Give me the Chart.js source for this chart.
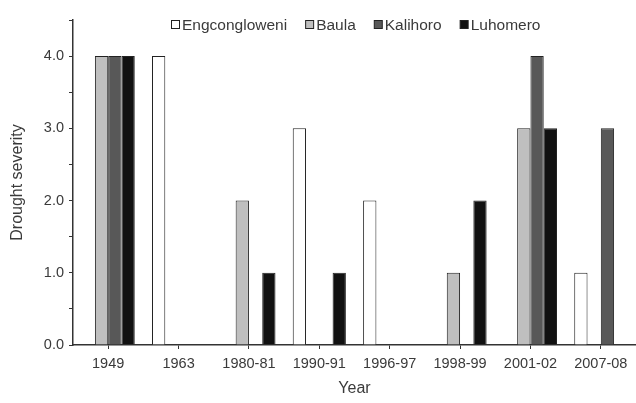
<!DOCTYPE html>
<html>
<head>
<meta charset="utf-8">
<script src="https://cdn.jsdelivr.net/npm/chart.js@4"></script>
<style>
    html, body { margin: 0; padding: 0; background: #fff; }
    #wrap { width: 636px; height: 403px; }
</style>
</head>
<body>
<div id="wrap"><canvas id="drought-chart" width="636" height="403"></canvas></div>
<script>
const years = ['1949', '1963', '1980-81', '1990-91', '1996-97', '1998-99', '2001-02', '2007-08'];
const engcongloweni = [null, 4, null, 3, 2, null, null, 1];
const baula = [4, null, 2, null, null, 1, 3, null];
const kalihoro = [4, null, null, null, null, null, 4, 3];
const luhomero = [4, null, 1, 1, null, 2, 3, null];

const FONT = '"Liberation Sans", Arial, Helvetica, sans-serif';

// legend drawn inside the top of the plot, like the original figure
const topLegend = {
    id: 'topLegend',
    afterDraw(chart) {
        const ctx = chart.ctx;
        ctx.save();
        ctx.font = '15.5px ' + FONT;
        ctx.textBaseline = 'middle';
        let x = 171;
        const y = 25;
        chart.data.datasets.forEach(ds => {
            ctx.fillStyle = ds.backgroundColor;
            ctx.strokeStyle = '#222';
            ctx.lineWidth = 1;
            ctx.fillRect(x + 0.5, y - 4.5, 8, 8);
            ctx.strokeRect(x + 0.5, y - 4.5, 8, 8);
            ctx.fillStyle = '#3a3a3a';
            ctx.fillText(ds.label, x + 11, y + 1);
            x += 11 + ctx.measureText(ds.label).width + 18;
        });
        ctx.restore();
    }
};

new Chart(document.getElementById('drought-chart'), {
    type: 'bar',
    data: {
        labels: years,
        datasets: [
            { label: 'Engcongloweni', data: engcongloweni, backgroundColor: '#ffffff' },
            { label: 'Baula', data: baula, backgroundColor: '#bfbfbf' },
            { label: 'Kalihoro', data: kalihoro, backgroundColor: '#585858' },
            { label: 'Luhomero', data: luhomero, backgroundColor: '#111111' }
        ].map(ds => Object.assign(ds, {
            borderColor: '#222',
            borderWidth: 1,
            borderSkipped: 'bottom',
            categoryPercentage: 0.755,
            barPercentage: 1
        }))
    },
    plugins: [topLegend],
    options: {
        responsive: false,
        animation: false,
        layout: {
            padding: { top: 20, right: 0, left: 4, bottom: 2 }
        },
        plugins: {
            legend: { display: false },
            tooltip: { enabled: false }
        },
        scales: {
            x: {
                grid: {
                    offset: false,
                    drawOnChartArea: false,
                    tickLength: 4,
                    tickColor: '#333'
                },
                border: { color: '#333', width: 1.5 },
                ticks: {
                    color: '#3a3a3a',
                    font: { family: FONT, size: 14.5 },
                    padding: 6,
                    maxRotation: 0,
                    autoSkip: false
                },
                title: {
                    display: true,
                    text: 'Year',
                    color: '#3a3a3a',
                    font: { family: FONT, size: 16 },
                    padding: { top: 4, bottom: 3 }
                },
                afterFit: (scale) => {
                    scale.height = 56;
                }
            },
            y: {
                min: 0,
                max: 4.5,
                grid: {
                    drawOnChartArea: false,
                    tickLength: 4,
                    tickColor: '#333'
                },
                border: { color: '#333', width: 1.5 },
                ticks: {
                    stepSize: 0.5,
                    color: '#3a3a3a',
                    font: { family: FONT, size: 14.5 },
                    padding: 5,
                    callback: (value) => {
                        return value % 1 === 0 ? value.toFixed(1) : '';
                    }
                },
                title: {
                    display: true,
                    text: 'Drought severity',
                    color: '#3a3a3a',
                    font: { family: FONT, size: 16 },
                    padding: { bottom: 4 }
                },
                afterFit: (scale) => {
                    scale.width = 69;
                }
            }
        }
    }
});
</script>
</body>
</html>
